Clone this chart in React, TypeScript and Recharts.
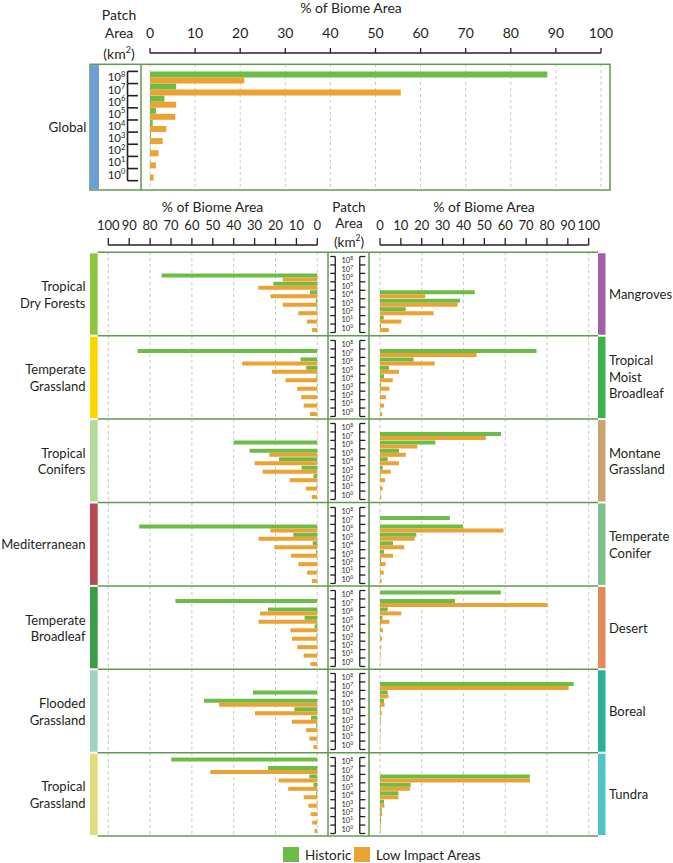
import React from 'react';
import { BarChart, Bar, XAxis, YAxis, CartesianGrid } from 'recharts';

// ---------- data ----------
const patchAreaExponents = ['8', '7', '6', '5', '4', '3', '2', '1', '0'];
const percentTicks = [0, 10, 20, 30, 40, 50, 60, 70, 80, 90, 100];

const globalHistoric = [88.1, 5.8, 3.2, 1.3, 0.6, 0.2, 0.1, 0.05, 0.02];
const globalLowImpact = [20.9, 55.6, 5.8, 5.6, 3.6, 2.8, 1.9, 1.3, 0.8];

const tropicalDryForestsHistoric = [0, 0, 74.5, 21, 3.5, 0.7, 0.4, 0.2, 0.1];
const tropicalDryForestsLowImpact = [0, 0, 16.5, 28.2, 22.4, 16.5, 9.1, 4.9, 2.5];
const temperateGrasslandHistoric = [0, 86, 8, 5.3, 0.5, 0.2, 0.1, 0.05, 0.02];
const temperateGrasslandLowImpact = [0, 0, 35.9, 21.7, 15.2, 9.6, 7.7, 6.5, 3.5];
const tropicalConifersHistoric = [0, 0, 40, 32.4, 18.3, 7.5, 1.8, 0.3, 0.1];
const tropicalConifersLowImpact = [0, 0, 0, 23, 30, 26.2, 13.2, 5.4, 2.6];
const mediterraneanHistoric = [0, 0, 85.2, 11.5, 2.2, 0.6, 0.2, 0.1, 0.05];
const mediterraneanLowImpact = [0, 0, 22.5, 28.1, 20.6, 12.6, 9.1, 4.9, 2.6];
const temperateBroadleafHistoric = [0, 67.9, 23.6, 6.1, 1.3, 0.4, 0.2, 0.1, 0.05];
const temperateBroadleafLowImpact = [0, 0, 27.4, 28.1, 12.9, 12.1, 9.6, 6.5, 3.3];
const floodedGrasslandHistoric = [0, 0, 30.8, 54.2, 11, 3, 0.5, 0.2, 0.1];
const floodedGrasslandLowImpact = [0, 0, 0, 47, 29.8, 12.1, 5.3, 3.8, 1.9];
const tropicalGrasslandHistoric = [69.9, 23.6, 3.8, 1.8, 0.5, 0.2, 0.1, 0.05, 0.02];
const tropicalGrasslandLowImpact = [0, 51.2, 18.5, 13.9, 6.5, 4.3, 3.2, 2.4, 1.3];

const mangrovesHistoric = [0, 0, 0, 0, 45.4, 38.3, 12.3, 1.8, 0.5];
const mangrovesLowImpact = [0, 0, 0, 0, 21.7, 37.2, 25.7, 10.2, 4.2];
const tropicalMoistBroadleafHistoric = [0, 75, 16.1, 4.3, 1.9, 0.5, 0.2, 0.1, 0.05];
const tropicalMoistBroadleafLowImpact = [0, 46.3, 26.2, 9.1, 6.1, 4.5, 2.9, 1.9, 1.0];
const montaneGrasslandHistoric = [0, 58, 26.5, 9.1, 3.7, 1.3, 0.3, 0.1, 0.05];
const montaneGrasslandLowImpact = [0, 50.7, 17.9, 12.4, 9.1, 5.1, 2.4, 1.3, 0.6];
const temperateConiferHistoric = [0, 33.5, 39.7, 17.4, 6.2, 1.9, 0.5, 0.2, 0.1];
const temperateConiferLowImpact = [0, 0, 59.2, 16.6, 11.6, 6.2, 2.7, 1.8, 0.8];
const desertHistoric = [57.9, 35.9, 3.7, 1.1, 0.3, 0.1, 0.05, 0.02, 0.01];
const desertLowImpact = [0, 80.4, 10.2, 4.5, 1.4, 1.0, 0.6, 0.3, 0.2];
const borealHistoric = [0, 92.8, 3.7, 1.9, 0.4, 0.2, 0.1, 0.05, 0.02];
const borealLowImpact = [0, 90.4, 4.0, 2.2, 0.8, 0.4, 0.3, 0.2, 0.1];
const tundraHistoric = [0, 0, 71.8, 14.7, 8.8, 1.9, 0.8, 0.5, 0.2];
const tundraLowImpact = [0, 0, 71.9, 14.4, 8.8, 2.1, 1.0, 0.6, 0.3];

const leftBiomeNames = [['Tropical', 'Dry Forests'], ['Temperate', 'Grassland'], ['Tropical', 'Conifers'], ['Mediterranean'], ['Temperate', 'Broadleaf'], ['Flooded', 'Grassland'], ['Tropical', 'Grassland']];
const rightBiomeNames = [['Mangroves'], ['Tropical', 'Moist', 'Broadleaf'], ['Montane', 'Grassland'], ['Temperate', 'Conifer'], ['Desert'], ['Boreal'], ['Tundra']];

const leftHistoric = [tropicalDryForestsHistoric, temperateGrasslandHistoric, tropicalConifersHistoric, mediterraneanHistoric, temperateBroadleafHistoric, floodedGrasslandHistoric, tropicalGrasslandHistoric];
const leftLowImpact = [tropicalDryForestsLowImpact, temperateGrasslandLowImpact, tropicalConifersLowImpact, mediterraneanLowImpact, temperateBroadleafLowImpact, floodedGrasslandLowImpact, tropicalGrasslandLowImpact];
const rightHistoric = [mangrovesHistoric, tropicalMoistBroadleafHistoric, montaneGrasslandHistoric, temperateConiferHistoric, desertHistoric, borealHistoric, tundraHistoric];
const rightLowImpact = [mangrovesLowImpact, tropicalMoistBroadleafLowImpact, montaneGrasslandLowImpact, temperateConiferLowImpact, desertLowImpact, borealLowImpact, tundraLowImpact];

const leftStripColors = ['#8dc63f', '#ffd400', '#b4da9c', '#b5494f', '#3a9e47', '#9fd5c0', '#e1dd7c'];
const rightStripColors = ['#a25ea6', '#3bb34a', '#c9a46f', '#7ec18f', '#e58a5b', '#2cae98', '#4fc3c7'];

// ---------- styles / layout ----------
const GREEN = '#6cbd45';
const ORANGE = '#eca232';
const LINE = '#5e9b4c';
const INK = '#231f20';
const GRID = '#c8c8c8';
const FONT = "Lato, 'Open Sans', sans-serif";

const PANEL_TOP = 252.3;
const PANEL_H = 83.4;
const PAD_TOP = 4.5;
const PAD_BOTTOM = 2.9;
const BAND = (PANEL_H - PAD_TOP - PAD_BOTTOM) / 9;

const G_TOP = 64.3;
const G_H = 125.7;
const G_PAD_TOP = 7.4;
const G_PAD_BOTTOM = 9;
const G_BAND = (G_H - G_PAD_TOP - G_PAD_BOTTOM) / 9;

const LEFT_X = 97.7;
const LEFT_W = 271.3;
const RIGHT_X = 369;
const RIGHT_W = 229;
const G_X = 99;
const G_W = 511;
const AXIS_EXTRA = 20;

function rows(historic: number[], lowImpact: number[]) {
  return patchAreaExponents.map((e, i) => ({ area: e, historic: historic[i], lowImpact: lowImpact[i] }));
}

const makeCenterTick = (originX: number) => (props: any) => {
  const { y, payload, index } = props;
  const half = BAND / 2;
  const top = y - half;
  const bottom = y + half;
  const last = index === patchAreaExponents.length - 1;
  const lx = (g: number) => g - originX;
  const sw = 1.3;
  return (
    <g>
      <line x1={lx(335)} x2={lx(335)} y1={top} y2={bottom} stroke={INK} strokeWidth={sw} />
      <line x1={lx(330)} x2={lx(335)} y1={top} y2={top} stroke={INK} strokeWidth={sw} />
      {last && <line x1={lx(330)} x2={lx(335)} y1={bottom} y2={bottom} stroke={INK} strokeWidth={sw} />}
      <line x1={lx(359.5)} x2={lx(359.5)} y1={top} y2={bottom} stroke={INK} strokeWidth={sw} />
      <line x1={lx(359.5)} x2={lx(365)} y1={top} y2={top} stroke={INK} strokeWidth={sw} />
      {last && <line x1={lx(359.5)} x2={lx(365)} y1={bottom} y2={bottom} stroke={INK} strokeWidth={sw} />}
      <text x={lx(347)} y={y + 2.6} textAnchor="middle" fontSize={7.5} fill={INK} fontFamily={FONT}>
        10<tspan dy={-3} fontSize={5}>{payload.value}</tspan>
      </text>
    </g>
  );
};

const makeGlobalTick = (originX: number) => (props: any) => {
  const { y, payload, index } = props;
  const half = G_BAND / 2;
  const top = y - half;
  const bottom = y + half;
  const last = index === patchAreaExponents.length - 1;
  const lx = (g: number) => g - originX;
  const sw = 1.6;
  return (
    <g>
      <line x1={lx(127.5)} x2={lx(127.5)} y1={top} y2={bottom} stroke={INK} strokeWidth={sw} />
      <line x1={lx(127.5)} x2={lx(138)} y1={top} y2={top} stroke={INK} strokeWidth={sw} />
      {last && <line x1={lx(127.5)} x2={lx(138)} y1={bottom} y2={bottom} stroke={INK} strokeWidth={sw} />}
      <text x={lx(116.5)} y={y + 4} textAnchor="middle" fontSize={11.5} fill={INK} fontFamily={FONT}>
        10<tspan dy={-4.5} fontSize={7.5}>{payload.value}</tspan>
      </text>
    </g>
  );
};

function Bars() {
  return [
    <Bar key="h" dataKey="historic" name="Historic" fill={GREEN} isAnimationActive={false} />,
    <Bar key="l" dataKey="lowImpact" name="Low Impact Areas" fill={ORANGE} isAnimationActive={false} />,
  ];
}

function LeftPanel({ i }: { i: number }) {
  const data = rows(leftHistoric[i], leftLowImpact[i]);
  return (
    <div style={{ position: 'absolute', left: LEFT_X, top: PANEL_TOP + i * PANEL_H }}>
      <BarChart width={LEFT_W} height={PANEL_H} data={data} layout="vertical" margin={{ top: 0, right: 0, bottom: 0, left: 10.3 }} barCategoryGap={0} barGap={0}>
        <CartesianGrid horizontal={false} stroke={GRID} strokeDasharray="3 3" />
        <XAxis type="number" domain={[0, 100]} ticks={percentTicks} reversed hide />
        <YAxis type="category" dataKey="area" orientation="right" width={52} axisLine={false} tickLine={false} interval={0} padding={{ top: PAD_TOP, bottom: PAD_BOTTOM }} tick={makeCenterTick(LEFT_X)} />
        {Bars()}
      </BarChart>
    </div>
  );
}

function RightPanel({ i }: { i: number }) {
  const data = rows(rightHistoric[i], rightLowImpact[i]);
  return (
    <div style={{ position: 'absolute', left: RIGHT_X, top: PANEL_TOP + i * PANEL_H }}>
      <BarChart width={RIGHT_W} height={PANEL_H} data={data} layout="vertical" margin={{ top: 0, right: 9.3, bottom: 0, left: 11 }} barCategoryGap={0} barGap={0}>
        <CartesianGrid horizontal={false} stroke={GRID} strokeDasharray="3 3" />
        <XAxis type="number" domain={[0, 100]} ticks={percentTicks} hide />
        <YAxis type="category" dataKey="area" hide padding={{ top: PAD_TOP, bottom: PAD_BOTTOM }} />
        {Bars()}
      </BarChart>
    </div>
  );
}

function GlobalPanel() {
  const data = rows(globalHistoric, globalLowImpact);
  return (
    <div style={{ position: 'absolute', left: G_X, top: G_TOP }}>
      <BarChart width={G_W} height={G_H} data={data} layout="vertical" margin={{ top: 0, right: 9, bottom: 0, left: 0 }} barCategoryGap={0} barGap={0}>
        <CartesianGrid horizontal={false} stroke={GRID} strokeDasharray="3 3" />
        <XAxis type="number" domain={[0, 100]} ticks={percentTicks} hide />
        <YAxis type="category" dataKey="area" orientation="left" width={51} axisLine={false} tickLine={false} interval={0} padding={{ top: G_PAD_TOP, bottom: G_PAD_BOTTOM }} tick={makeGlobalTick(G_X)} />
        {Bars()}
      </BarChart>
    </div>
  );
}

function TopAxis({ left, top, width, mLeft, mRight, reversed, fontSize, tickSize, tickMargin }: any) {
  const data = rows(globalHistoric, globalLowImpact);
  return (
    <div style={{ position: 'absolute', left: left - AXIS_EXTRA, top }}>
      <BarChart width={width + 2 * AXIS_EXTRA} height={42} data={data} layout="vertical" margin={{ top: 0, right: mRight + AXIS_EXTRA, bottom: 0, left: mLeft + AXIS_EXTRA }}>
        <XAxis type="number" orientation="top" domain={[0, 100]} allowDataOverflow ticks={percentTicks} reversed={reversed} interval={0} height={40}
          axisLine={{ stroke: INK, strokeWidth: 1.3 }} tickLine={{ stroke: INK, strokeWidth: 1.3 }} tickSize={tickSize} tickMargin={tickMargin}
          tick={{ fill: INK, fontSize, fontFamily: FONT }} />
        <YAxis type="category" dataKey="area" hide />
        <Bar dataKey="historic" fill="transparent" fillOpacity={0} isAnimationActive={false} />
      </BarChart>
    </div>
  );
}

function Label({ x, y, children, size = 14, anchor = 'middle' }: any) {
  const tx = anchor === 'middle' ? '-50%' : anchor === 'end' ? '-100%' : '0';
  return (
    <div style={{ position: 'absolute', left: x, top: y, transform: `translate(${tx}, -50%)`, fontSize: size, color: INK, whiteSpace: 'nowrap', lineHeight: '16.5px', textAlign: anchor === 'end' ? 'right' : anchor === 'start' ? 'left' : 'center' }}>
      {children}
    </div>
  );
}

export default function App() {
  const panelIdx = [0, 1, 2, 3, 4, 5, 6];
  const bottom = PANEL_TOP + 7 * PANEL_H;
  return (
    <div style={{ position: 'absolute', left: 0, top: 0, width: 673, height: 863, background: '#fff', fontFamily: FONT, color: INK, overflow: 'hidden' }}>
      {/* headers */}
      <Label x={351} y={8}>% of Biome Area</Label>
      <Label x={119} y={15}>Patch</Label>
      <Label x={119} y={33}>Area</Label>
      <Label x={119} y={52}>(km<sup style={{ fontSize: 9 }}>2</sup>)</Label>
      <Label x={212.5} y={207}>% of Biome Area</Label>
      <Label x={484} y={207}>% of Biome Area</Label>
      <Label x={349} y={207} size={13.5}>Patch</Label>
      <Label x={349} y={223} size={13.5}>Area</Label>
      <Label x={349} y={240} size={13.5}>(km<sup style={{ fontSize: 8.5 }}>2</sup>)</Label>

      <TopAxis left={G_X} top={53.3 - 40} width={G_W} mLeft={51} mRight={9} reversed={false} fontSize={14} tickSize={5} tickMargin={10} />
      <TopAxis left={LEFT_X} top={245 - 40} width={LEFT_W} mLeft={10.3} mRight={52} reversed={true} fontSize={13} tickSize={7} tickMargin={8} />
      <TopAxis left={RIGHT_X} top={245 - 40} width={RIGHT_W} mLeft={11} mRight={9.3} reversed={false} fontSize={13} tickSize={7} tickMargin={8} />

      <GlobalPanel />
      {panelIdx.map((i) => <LeftPanel key={'l' + i} i={i} />)}
      {panelIdx.map((i) => <RightPanel key={'r' + i} i={i} />)}

      {/* frames and strips */}
      <svg width={673} height={863} style={{ position: 'absolute', left: 0, top: 0, pointerEvents: 'none' }}>
        <rect x={90} y={G_TOP} width={520} height={G_H} fill="none" stroke={LINE} strokeWidth={1.5} />
        <line x1={141} x2={141} y1={G_TOP} y2={G_TOP + G_H} stroke={LINE} strokeWidth={1.5} />
        <rect x={90} y={G_TOP + 0.8} width={9} height={G_H - 1.6} fill="#6c9fd6" />
        {[0, 1, 2, 3, 4, 5, 6, 7].map((k) => (
          <line key={'h' + k} x1={97.7} x2={598} y1={PANEL_TOP + k * PANEL_H} y2={PANEL_TOP + k * PANEL_H} stroke={LINE} strokeWidth={1.5} />
        ))}
        <line x1={328} x2={328} y1={PANEL_TOP} y2={bottom} stroke={LINE} strokeWidth={1.5} />
        <line x1={369} x2={369} y1={PANEL_TOP} y2={bottom} stroke={LINE} strokeWidth={1.5} />
        {panelIdx.map((i) => (
          <rect key={'ls' + i} x={90} y={PANEL_TOP + i * PANEL_H + 1} width={7.7} height={PANEL_H - 2} fill={leftStripColors[i]} />
        ))}
        {panelIdx.map((i) => (
          <rect key={'rs' + i} x={598} y={PANEL_TOP + i * PANEL_H + 1} width={7.5} height={PANEL_H - 2} fill={rightStripColors[i]} />
        ))}
      </svg>

      {/* row labels */}
      <Label x={86.5} y={G_TOP + G_H / 2} anchor="end" size={13.5}>Global</Label>
      {panelIdx.map((i) => (
        <Label key={'ln' + i} x={85.5} y={PANEL_TOP + i * PANEL_H + PANEL_H / 2} anchor="end" size={13}>
          {leftBiomeNames[i].map((s, j) => <div key={j}>{s}</div>)}
        </Label>
      ))}
      {panelIdx.map((i) => (
        <Label key={'rn' + i} x={609} y={PANEL_TOP + i * PANEL_H + PANEL_H / 2} anchor="start" size={13}>
          {rightBiomeNames[i].map((s, j) => <div key={j}>{s}</div>)}
        </Label>
      ))}

      {/* legend */}
      <div style={{ position: 'absolute', left: 283, top: 847, width: 16, height: 15, background: GREEN }} />
      <Label x={305} y={855} anchor="start" size={13.5}>Historic</Label>
      <div style={{ position: 'absolute', left: 354, top: 847, width: 16, height: 15, background: ORANGE }} />
      <Label x={376} y={855} anchor="start" size={13.5}>Low Impact Areas</Label>
    </div>
  );
}
